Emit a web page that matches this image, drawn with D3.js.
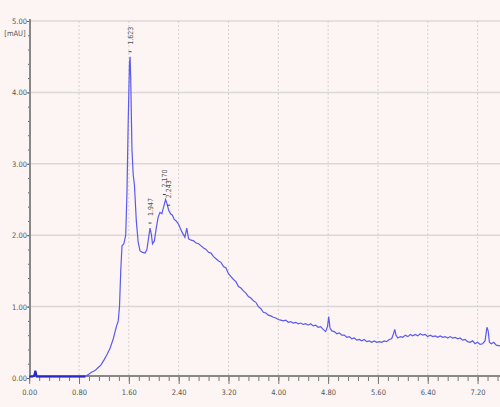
<!DOCTYPE html>
<html>
<head>
<meta charset="utf-8">
<script src="https://cdn.jsdelivr.net/npm/d3@7"></script>
<style>
  body { margin: 0; background: #fdf5f4; }
  text { font-family: "DejaVu Sans Condensed", "DejaVu Sans", sans-serif; }
</style>
</head>
<body>
<div id="graph"></div>
<script>
// retention time (min) and signal (AU)
const retTime = [
  0.00, 0.05, 0.08, 0.10, 0.12, 0.40, 0.70, 0.90, 0.95, 1.00,
  1.05, 1.10, 1.15, 1.20, 1.25, 1.30, 1.35, 1.40, 1.43, 1.45,
  1.47, 1.49, 1.52, 1.55, 1.57, 1.59, 1.61, 1.62, 1.63, 1.65,
  1.67, 1.69, 1.72, 1.75, 1.78, 1.82, 1.86, 1.89, 1.92, 1.94,
  1.96, 1.98, 2.01, 2.04, 2.07, 2.10, 2.13, 2.16, 2.19, 2.21,
  2.24, 2.27, 2.30, 2.33, 2.36, 2.40, 2.45, 2.50, 2.53, 2.56,
  2.60, 2.64, 2.68, 2.72, 2.76, 2.80, 2.84, 2.88, 2.92, 2.96,
  3.00, 3.04, 3.08, 3.12, 3.16, 3.20, 3.24, 3.28, 3.32, 3.36,
  3.40, 3.44, 3.48, 3.52, 3.56, 3.60, 3.64, 3.68, 3.72, 3.76,
  3.80, 3.84, 3.88, 3.92, 3.96, 4.00, 4.04, 4.08, 4.12, 4.16,
  4.20, 4.24, 4.28, 4.32, 4.36, 4.40, 4.44, 4.48, 4.52, 4.56,
  4.60, 4.64, 4.68, 4.72, 4.76, 4.79, 4.81, 4.83, 4.86, 4.90,
  4.94, 4.98, 5.02, 5.06, 5.10, 5.14, 5.18, 5.22, 5.26, 5.30,
  5.34, 5.38, 5.42, 5.46, 5.50, 5.54, 5.58, 5.62, 5.66, 5.70,
  5.74, 5.78, 5.82, 5.85, 5.87, 5.89, 5.92, 5.96, 6.00, 6.04,
  6.08, 6.12, 6.16, 6.20, 6.24, 6.28, 6.32, 6.36, 6.40, 6.44,
  6.48, 6.52, 6.56, 6.60, 6.64, 6.68, 6.72, 6.76, 6.80, 6.84,
  6.88, 6.92, 6.96, 7.00, 7.04, 7.08, 7.12, 7.16, 7.20, 7.24,
  7.28, 7.32, 7.35, 7.37, 7.39, 7.42, 7.46, 7.50, 7.56
];
const mAU = [
  0.02, 0.02, 0.03, 0.10, 0.02, 0.02, 0.02, 0.02, 0.05, 0.08,
  0.10, 0.14, 0.18, 0.25, 0.33, 0.42, 0.55, 0.72, 0.80, 1.00,
  1.50, 1.85, 1.88, 2.00, 2.60, 3.60, 4.40, 4.50, 4.20, 3.20,
  2.85, 2.70, 2.20, 1.90, 1.78, 1.76, 1.75, 1.80, 1.98, 2.10,
  2.02, 1.88, 1.92, 2.10, 2.25, 2.32, 2.30, 2.40, 2.50, 2.45,
  2.35, 2.30, 2.28, 2.22, 2.20, 2.15, 2.05, 1.97, 2.10, 1.95,
  1.93, 1.92, 1.89, 1.88, 1.85, 1.82, 1.80, 1.76, 1.75, 1.70,
  1.67, 1.64, 1.62, 1.56, 1.54, 1.46, 1.42, 1.38, 1.35, 1.28,
  1.26, 1.22, 1.19, 1.14, 1.12, 1.08, 1.06, 1.00, 0.97, 0.92,
  0.91, 0.88, 0.87, 0.85, 0.84, 0.82, 0.81, 0.80, 0.81, 0.78,
  0.79, 0.77, 0.78, 0.76, 0.77, 0.75, 0.76, 0.74, 0.76, 0.73,
  0.74, 0.71, 0.72, 0.68, 0.65, 0.72, 0.86, 0.70, 0.66, 0.65,
  0.62, 0.63, 0.60, 0.60, 0.57, 0.58, 0.55, 0.56, 0.53, 0.54,
  0.52, 0.54, 0.51, 0.52, 0.50, 0.52, 0.50, 0.51, 0.50, 0.52,
  0.51, 0.54, 0.55, 0.62, 0.68, 0.60, 0.56, 0.58, 0.57, 0.60,
  0.58, 0.61, 0.59, 0.61, 0.59, 0.62, 0.60, 0.61, 0.58, 0.60,
  0.58, 0.59, 0.57, 0.59, 0.57, 0.58, 0.56, 0.58, 0.56, 0.57,
  0.55, 0.56, 0.53, 0.54, 0.51, 0.50, 0.52, 0.48, 0.50, 0.47,
  0.48, 0.52, 0.71, 0.66, 0.50, 0.48, 0.50, 0.46, 0.45
];
const xTicks = [0, 0.8, 1.6, 2.4, 3.2, 4.0, 4.8, 5.6, 6.4, 7.2];
const yTicks = [0, 1, 2, 3, 4, 5];
const peakTimes = [1.62, 1.94, 2.17, 2.24];
const peakLabels = ["1.623", "1.947", "2.170", "2.243"];

const width = 500, height = 407;

const svg = d3.select("#graph").append("svg")
    .attr("width", width)
    .attr("height", height)
    .style("background", "#fdf5f4");

const xScale = d3.scaleLinear().domain([0, 7.56]).range([29.2, 500]);
const yScale = d3.scaleLinear().domain([0, 5]).range([378, 21]);
const axisY = 376;

// grid
svg.append("g").selectAll("line")
    .data(yTicks.slice(1))
    .enter().append("line")
    .attr("x1", 31).attr("x2", width)
    .attr("y1", d => yScale(d)).attr("y2", d => yScale(d))
    .attr("stroke", "#dcd8d8").attr("stroke-width", 1.5);

svg.append("g").selectAll("line")
    .data(xTicks.slice(1))
    .enter().append("line")
    .attr("x1", d => xScale(d)).attr("x2", d => xScale(d))
    .attr("y1", 21).attr("y2", axisY)
    .attr("stroke", "#d4d0d0").attr("stroke-width", 1)
    .attr("stroke-dasharray", "2,2");

// x axis
const xAxis = svg.append("g")
    .attr("transform", `translate(0, ${axisY})`)
    .call(d3.axisBottom(xScale).tickValues(d3.range(0, 7.57, 0.16)).tickSize(5).tickFormat(""));
xAxis.select(".domain").remove();
xAxis.selectAll("line").attr("stroke", "#777");

const xMajor = svg.append("g")
    .attr("transform", `translate(0, ${axisY})`)
    .call(d3.axisBottom(xScale).tickValues(xTicks).tickSize(8).tickFormat(d3.format(".2f")));
xMajor.select(".domain").remove();
xMajor.selectAll("line").attr("stroke", "#777");
xMajor.selectAll("text")
    .attr("font-size", "7.5px").attr("fill", "#555").attr("dy", "1.1em");

svg.append("line")
    .attr("x1", 29).attr("x2", width)
    .attr("y1", axisY).attr("y2", axisY)
    .attr("stroke", "#888").attr("stroke-width", 2);

// y axis
const yMinor = svg.append("g")
    .attr("transform", "translate(30, 0)")
    .call(d3.axisLeft(yScale).tickValues(d3.range(0, 5.01, 0.2)).tickSize(2).tickFormat(""));
yMinor.select(".domain").remove();
yMinor.selectAll("line").attr("stroke", "#666");

const yMajor = svg.append("g")
    .attr("transform", "translate(30, 0)")
    .call(d3.axisLeft(yScale).tickValues(yTicks).tickSize(3).tickFormat(d3.format(".2f")));
yMajor.select(".domain").remove();
yMajor.selectAll("line").attr("stroke", "#666");
yMajor.selectAll("text")
    .attr("font-size", "7.5px").attr("fill", "#555").attr("x", -3);

svg.append("line")
    .attr("x1", 30).attr("x2", 30)
    .attr("y1", 19).attr("y2", axisY)
    .attr("stroke", "#888").attr("stroke-width", 2);

svg.append("text")
    .attr("x", 15).attr("y", 36)
    .attr("text-anchor", "middle")
    .attr("font-size", "7.5px").attr("fill", "#555")
    .text("[mAU]");

// trace
const points = retTime.map((t, i) => [t, mAU[i]]);
const line = d3.line().x(d => xScale(d[0])).y(d => yScale(d[1]));

svg.append("path")
    .datum(points)
    .attr("fill", "none")
    .attr("stroke", "#5a5af0")
    .attr("stroke-width", 1.2)
    .attr("d", line);

svg.append("path")
    .datum(points.filter(d => d[0] <= 0.92))
    .attr("fill", "none")
    .attr("stroke", "#2828c8")
    .attr("stroke-width", 2)
    .attr("d", line);

// peak labels
const peakTop = t => mAU[retTime.indexOf(t)] !== undefined && retTime.indexOf(t) >= 0
    ? mAU[retTime.indexOf(t)]
    : d3.max(points.filter(d => Math.abs(d[0] - t) < 0.03), d => d[1]);

const peaks = svg.append("g").selectAll("g")
    .data(peakTimes)
    .enter().append("g")
    .attr("transform", (d, i) => `translate(${xScale(d)}, ${yScale(peakTop(d)) - 5})`);

peaks.append("line")
    .attr("x1", -1.5).attr("x2", 1.5)
    .attr("stroke", "#444").attr("stroke-width", 1);

peaks.append("text")
    .attr("transform", "rotate(-90)")
    .attr("x", 7).attr("y", 2.5)
    .attr("font-size", "7px").attr("fill", "#555")
    .text((d, i) => peakLabels[i]);
</script>
</body>
</html>
